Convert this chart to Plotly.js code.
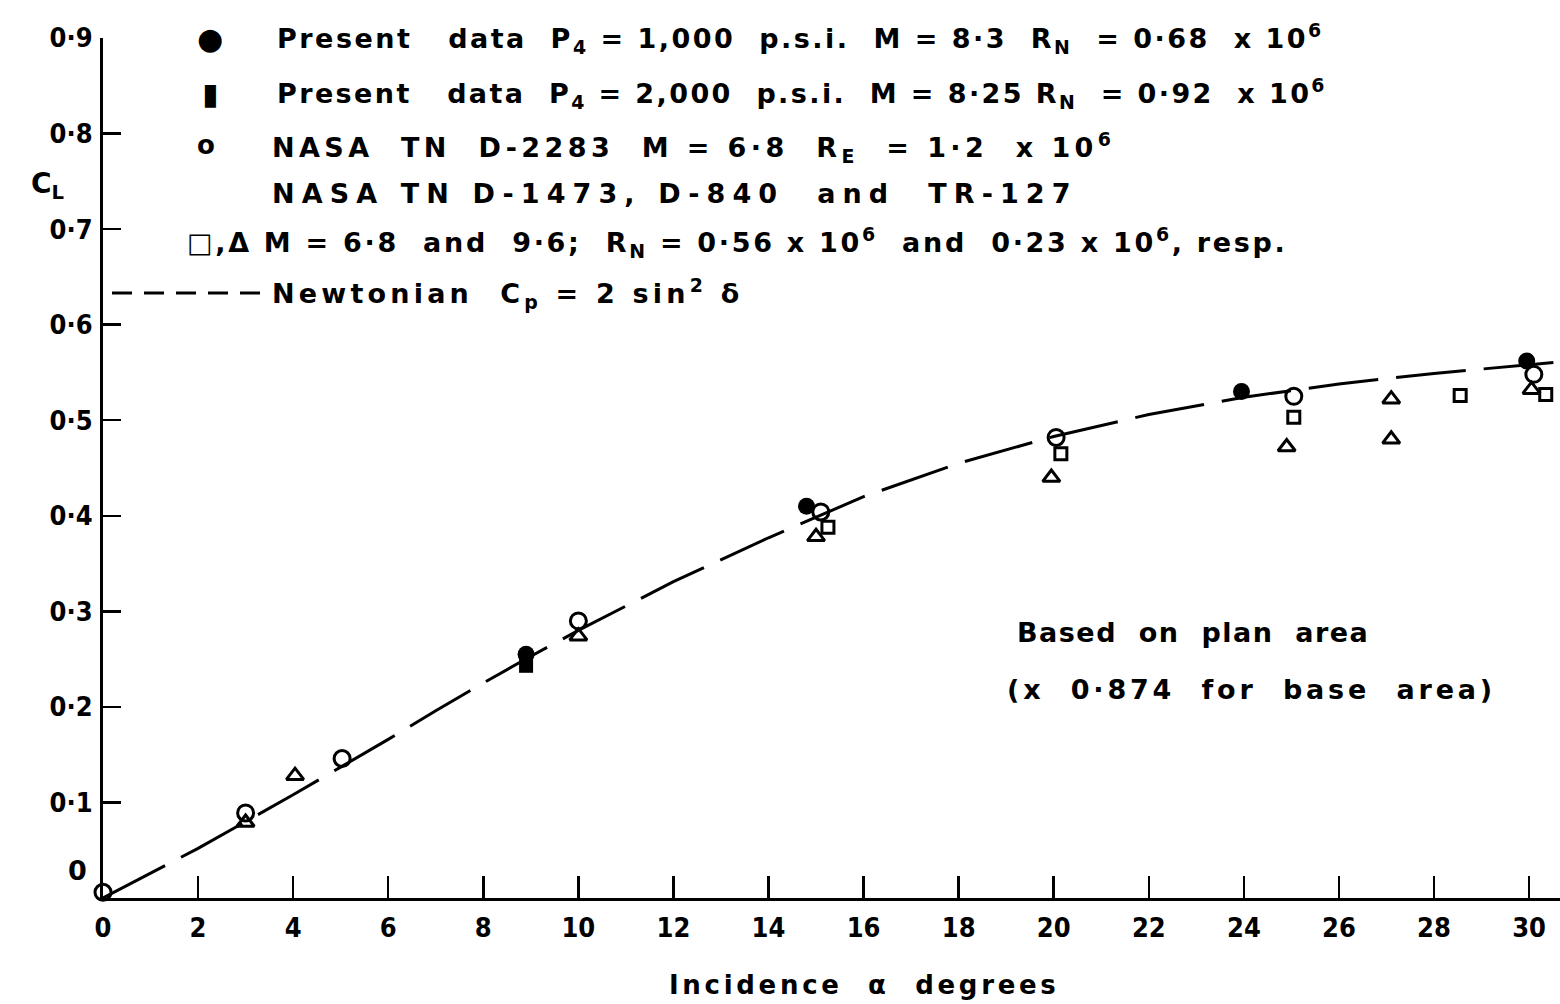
<!DOCTYPE html>
<html>
<head>
<meta charset="utf-8">
<script src="https://cdn.plot.ly/plotly-3.0.1.min.js"></script>
<style>
  html, body { margin: 0; padding: 0; background: #fff; }
  #chart { width: 1560px; height: 1004px; }
</style>
</head>
<body>
<div id="chart"></div>
<script>
// Newtonian curve, Cp = 2 sin^2 delta
const newtonAlpha = [0, 2, 3, 4, 5, 6, 7, 8, 9, 10, 12, 14, 16, 18, 20, 22, 24, 26, 28, 30, 30.65];
const newtonCL    = [0, 0.052, 0.080, 0.108, 0.137, 0.166, 0.196, 0.225, 0.253, 0.280, 0.331, 0.377, 0.420, 0.455, 0.483, 0.506, 0.524, 0.538, 0.549, 0.558, 0.561];

// Present data, P4 = 1,000 p.s.i.
const p1000Alpha = [8.9, 14.8, 23.95, 29.95];
const p1000CL    = [0.255, 0.410, 0.530, 0.562];

// Present data, P4 = 2,000 p.s.i.
const p2000Alpha = [0, 8.9];
const p2000CL    = [-0.006, 0.243];

// NASA TN D-2283, M = 6.8
const d2283Alpha = [0, 3, 5.03, 10, 15.1, 20.05, 25.05, 30.1];
const d2283CL    = [0.006, 0.089, 0.146, 0.290, 0.404, 0.482, 0.525, 0.548];

// NASA TN D-1473, D-840, TR-127: squares M = 6.8
const sqAlpha = [15.25, 20.15, 25.05, 28.55, 30.35];
const sqCL    = [0.388, 0.465, 0.503, 0.526, 0.527];

// NASA TN D-1473, D-840, TR-127: triangles M = 9.6
const triAlpha = [3, 4.04, 10, 15.0, 19.95, 24.9, 27.1, 27.1, 30.05];
const triCL    = [0.079, 0.128, 0.274, 0.378, 0.440, 0.472, 0.522, 0.480, 0.532];

// Axis ticks
const xTicks = [0, 2, 4, 6, 8, 10, 12, 14, 16, 18, 20, 22, 24, 26, 28, 30];
const yTicks = [0.1, 0.2, 0.3, 0.4, 0.5, 0.6, 0.7, 0.8, 0.9];
const yTickText = ['0·1', '0·2', '0·3', '0·4', '0·5', '0·6', '0·7', '0·8', '0·9'];

const FONT = 'DejaVu Sans, sans-serif';
const TICKFONT = 'DejaVu Sans Condensed, Liberation Sans Narrow, DejaVu Sans, sans-serif';
const NB = '\u00a0';
const sp = n => NB.repeat(n);

// page geometry of the plot area
const L = 103, T = 38, W = 1457, H = 860;
const px = x => (x - L) / W;
const py = y => (T + H - y) / H;

// letter spacing (px) applied to each annotation after drawing
const spacing = [];

function label(text, x, y, size, anchor, track) {
  spacing.push(track || 0);
  const a = anchor || 'left';
  return {
    text: text, xref: 'paper', yref: 'paper', x: px(x), y: py(y),
    xanchor: a, yanchor: 'middle', align: a, showarrow: false,
    font: { family: FONT, size: size || 27, color: '#000', weight: 'bold' }
  };
}

const traces = [
  {
    x: newtonAlpha, y: newtonCL, mode: 'lines', name: 'Newtonian',
    line: { color: '#000', width: 3, dash: '70px,18px' }, cliponaxis: false
  },
  {
    x: d2283Alpha, y: d2283CL, mode: 'markers', name: 'NASA TN D-2283',
    marker: { symbol: 'circle-open', size: 16, color: '#000', line: { width: 3, color: '#000' } },
    cliponaxis: false
  },
  {
    x: sqAlpha, y: sqCL, mode: 'markers', name: 'M = 6.8',
    marker: { symbol: 'square-open', size: 12, color: '#000', line: { width: 3, color: '#000' } },
    cliponaxis: false
  },
  {
    x: triAlpha, y: triCL, mode: 'markers', name: 'M = 9.6',
    marker: { symbol: 'triangle-up-open', size: 15, color: '#000', line: { width: 3, color: '#000' } },
    cliponaxis: false
  },
  {
    x: p2000Alpha, y: p2000CL, mode: 'markers', name: 'P4 = 2,000 p.s.i.',
    marker: { symbol: 'square', size: 14, color: '#000' }, cliponaxis: false
  },
  {
    x: p1000Alpha, y: p1000CL, mode: 'markers', name: 'P4 = 1,000 p.s.i.',
    marker: { symbol: 'circle', size: 17, color: '#000' }, cliponaxis: false
  }
];

const annotations = [
  // key
  label('●', 210, 38, 30, 'center'),
  label('▮', 210, 93, 30, 'center'),
  label('o', 206, 145, 26, 'center'),
  label('Present' + sp(3) + 'data' + sp(2) + 'P<sub>4</sub> = 1,000' + sp(2) + 'p.s.i.' + sp(2) +
        'M = 8·3' + sp(2) + 'R<sub>N</sub>' + sp(2) + '= 0·68' + sp(2) + 'x 10<sup>6</sup>', 275, 38, 27, 'left', 2.5),
  label('Present' + sp(3) + 'data' + sp(2) + 'P<sub>4</sub> = 2,000' + sp(2) + 'p.s.i.' + sp(2) +
        'M = 8·25' + sp(1) + 'R<sub>N</sub>' + sp(2) + '= 0·92' + sp(2) + 'x 10<sup>6</sup>', 275, 93, 27, 'left', 2.4),
  label('NASA' + sp(2) + 'TN' + sp(2) + 'D-2283' + sp(2) + 'M = 6·8' + sp(2) + 'R<sub>E</sub>' + sp(2) +
        '= 1·2' + sp(2) + 'x 10<sup>6</sup>', 270, 147, 27, 'left', 4.4),
  label('NASA' + sp(1) + 'TN' + sp(1) + 'D-1473, D-840' + sp(2) + 'and' + sp(2) + 'TR-127', 270, 193, 27, 'left', 7.1),
  label('□,Δ M = 6·8' + sp(2) + 'and' + sp(2) + '9·6;' + sp(2) + 'R<sub>N</sub> = 0·56 x 10<sup>6</sup>' +
        sp(2) + 'and' + sp(2) + '0·23 x 10<sup>6</sup>, resp.', 185, 243, 27, 'left', 2.7),
  label('Newtonian' + sp(2) + 'C<sub>p</sub>' + sp(1) + '=' + sp(1) + '2' + sp(1) + 'sin<sup>2</sup> δ', 270, 293, 27, 'left', 4.2),
  // note
  label('Based' + sp(2) + 'on' + sp(2) + 'plan' + sp(2) + 'area', 1015, 632, 27, 'left', 1.5),
  label('(x' + sp(2) + '0·874' + sp(2) + 'for' + sp(2) + 'base' + sp(2) + 'area)', 1005, 689, 27, 'left', 3.8),
  // axis labels
  label('C<sub>L</sub>', 47, 185, 28, 'center'),
  label('0', 77, 870, 27, 'center'),
  label('Incidence' + sp(2) + 'α' + sp(2) + 'degrees', 667, 985, 26, 'left', 3.7)
];

const layout = {
  width: 1560, height: 1004,
  margin: { l: L, r: 1560 - L - W, t: T, b: 1004 - T - H, pad: 0 },
  paper_bgcolor: '#fff', plot_bgcolor: '#fff',
  showlegend: false,
  font: { family: FONT, color: '#000' },
  xaxis: {
    range: [0, 30.65], tickvals: xTicks, ticktext: xTicks.map(String),
    ticks: 'inside', ticklen: 22, tickwidth: 2.5, tickcolor: '#000',
    showline: true, linewidth: 3, linecolor: '#000',
    showgrid: false, zeroline: false, ticklabelstandoff: 4,
    tickfont: { family: TICKFONT, size: 27, color: '#000', weight: 'bold' }
  },
  yaxis: {
    range: [0, 0.9], tickvals: yTicks, ticktext: yTickText,
    ticks: 'inside', ticklen: 18, tickwidth: 2.5, tickcolor: '#000',
    showline: true, linewidth: 3, linecolor: '#000',
    showgrid: false, zeroline: false, ticklabelstandoff: 2,
    tickfont: { family: TICKFONT, size: 27, color: '#000', weight: 'bold' }
  },
  shapes: [
    { type: 'line', xref: 'paper', yref: 'paper', x0: px(112), x1: px(265), y0: py(293), y1: py(293),
      line: { color: '#000', width: 3, dash: '20px,12px' } }
  ],
  annotations: annotations
};

Plotly.newPlot('chart', traces, layout, { staticPlot: true, displayModeBar: false }).then(gd => {
  // widen the lettering of the key and note lines, keeping each left edge in place
  gd.querySelectorAll('g.annotation').forEach(g => {
    const i = +g.getAttribute('data-index');
    const t = g.querySelector('text.annotation-text');
    if (!t || !spacing[i]) return;
    const left0 = t.getBBox().x;
    t.style.letterSpacing = spacing[i] + 'px';
    const shift = left0 - t.getBBox().x;
    if (Math.abs(shift) > 0.5) {
      const tr = t.getAttribute('transform') || '';
      t.setAttribute('transform', tr + ' translate(' + shift + ',0)');
    }
  });
  // carry each text's computed size as an attribute too
  gd.querySelectorAll('text').forEach(t => {
    const fs = getComputedStyle(t).fontSize;
    if (fs) t.setAttribute('font-size', fs);
  });
});
</script>
</body>
</html>
